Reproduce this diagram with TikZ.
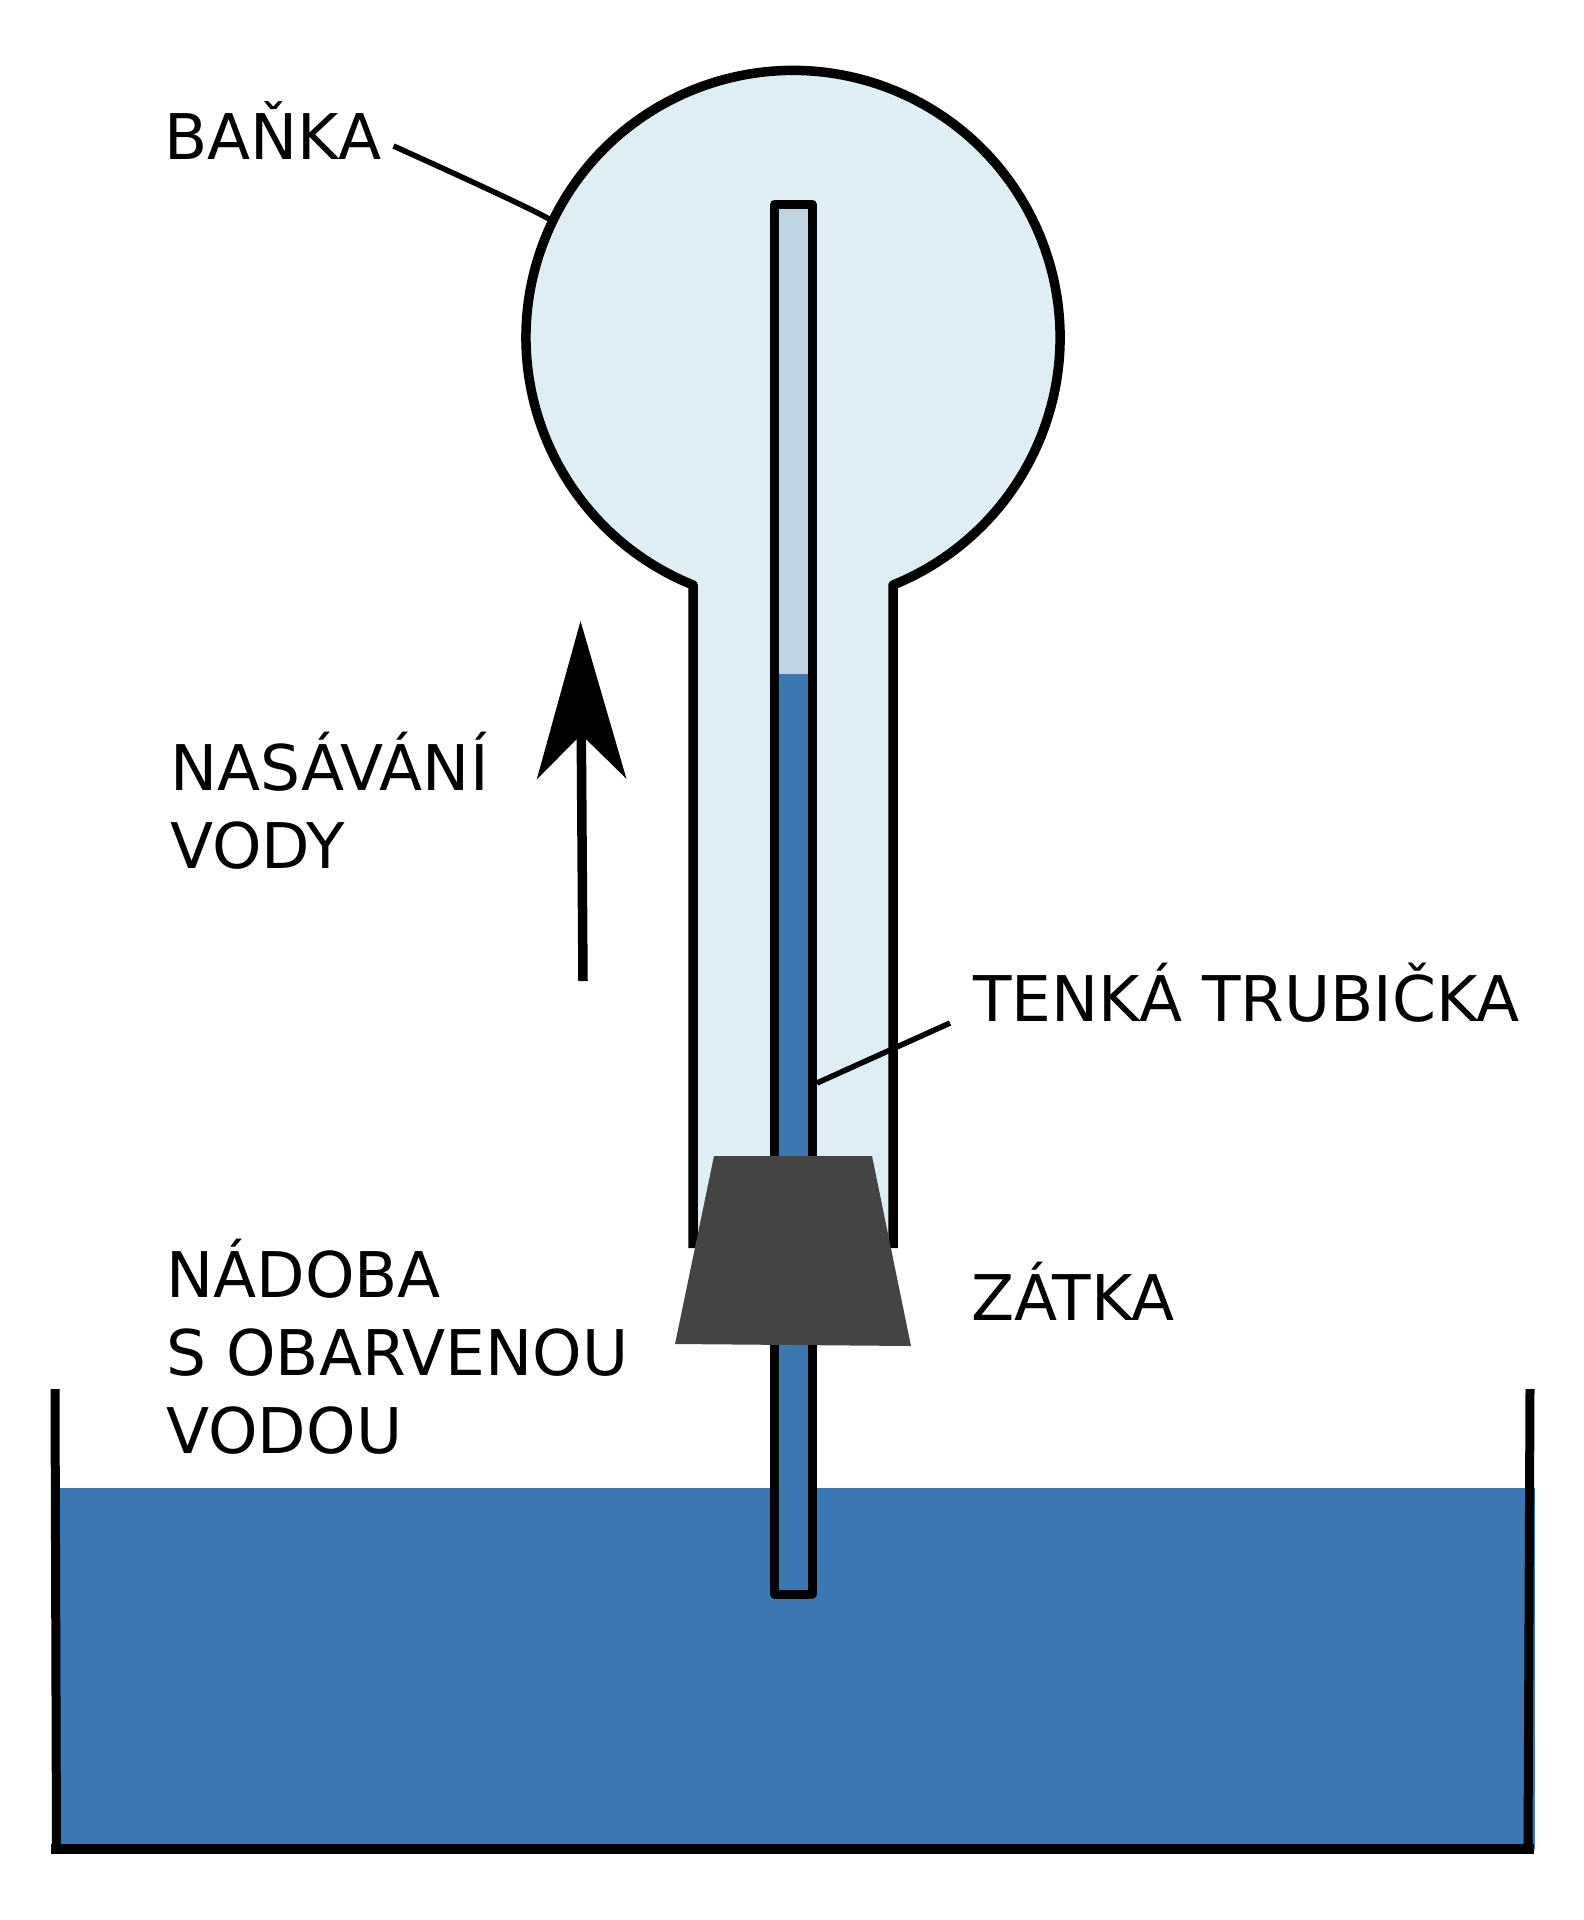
\documentclass[tikz,border=0pt]{standalone}
\usepackage{fontspec}
\setmainfont{DejaVu Sans}
\usetikzlibrary{arrows.meta}
\definecolor{flaskblue}{HTML}{DFEEF4}
\definecolor{airblue}{HTML}{BFD4E0}
\definecolor{waterblue}{HTML}{3B77B3}
\definecolor{plugrey}{HTML}{444444}
\tikzset{
  wall/.style={line width=0.18cm, line join=round},
  leader/.style={line width=0.11cm},
  lbl/.style={anchor=base west, inner sep=0pt, align=left, font=\fontsize{35.85}{44.4}\selectfont},
}

\begin{document}
\begin{tikzpicture}[x=0.02cm, y=-0.02cm]
\useasboundingbox (0,0) rectangle (1584,1920);

% flask
\fill[flaskblue] (693,585) arc[start angle=112, end angle=428, radius=267] -- (893,1248) -- (693,1248) -- cycle;
\draw[wall, line width=0.19cm] (693,1248) -- (693,585) arc[start angle=112, end angle=428, radius=267] -- (893,1248);

% water in the vessel
\fill[waterblue] (55,1488) rectangle (1535,1849);
\draw[wall] (55,1389) -- (56.5,1849);
\draw[wall] (1530,1389) -- (1528,1849);
\draw[line width=0.2cm] (51,1849) -- (1534,1849);

% thin tube
\fill[airblue] (774.5,204) rectangle (812,674);
\fill[waterblue] (774.5,674) rectangle (812,1594);
\draw[wall] (774.5,204) rectangle (812,1594);

% stopper
\fill[plugrey] (714,1156) -- (872,1156) -- (911,1346) -- (793,1345) -- (675,1344) -- cycle;

% arrow
\coordinate (armfoot) at (583,981);
\coordinate (armtip) at (580.5,621);
\draw[line width=0.19cm, -{Stealth[length=3.15cm, width=1.78cm, inset=0.88cm]}] (armfoot) -- (armtip);

% labels
\node[lbl] (banka) at (164,159) {BAŇKA};
\node[lbl] (nasavani) at (170,868) {NASÁVÁNÍ\\VODY};
\node[lbl] (trubicka) at (973,1021) {TENKÁ TRUBIČKA};
\node[lbl] (zatka) at (971,1320) {ZÁTKA};
\node[lbl] (nadoba) at (166,1453) {NÁDOBA\\S OBARVENOU\\VODOU};

\coordinate (bankafoot) at (393.5,146);
\coordinate (bankatip) at (550,219.5);
\coordinate (trubickafoot) at (950,1023);
\coordinate (trubickatip) at (817,1083);
\draw[leader] (bankafoot) .. controls (450,171.5) and (528,207) .. (bankatip);
\draw[leader] (trubickafoot) -- (trubickatip);

\end{tikzpicture}
\end{document}
